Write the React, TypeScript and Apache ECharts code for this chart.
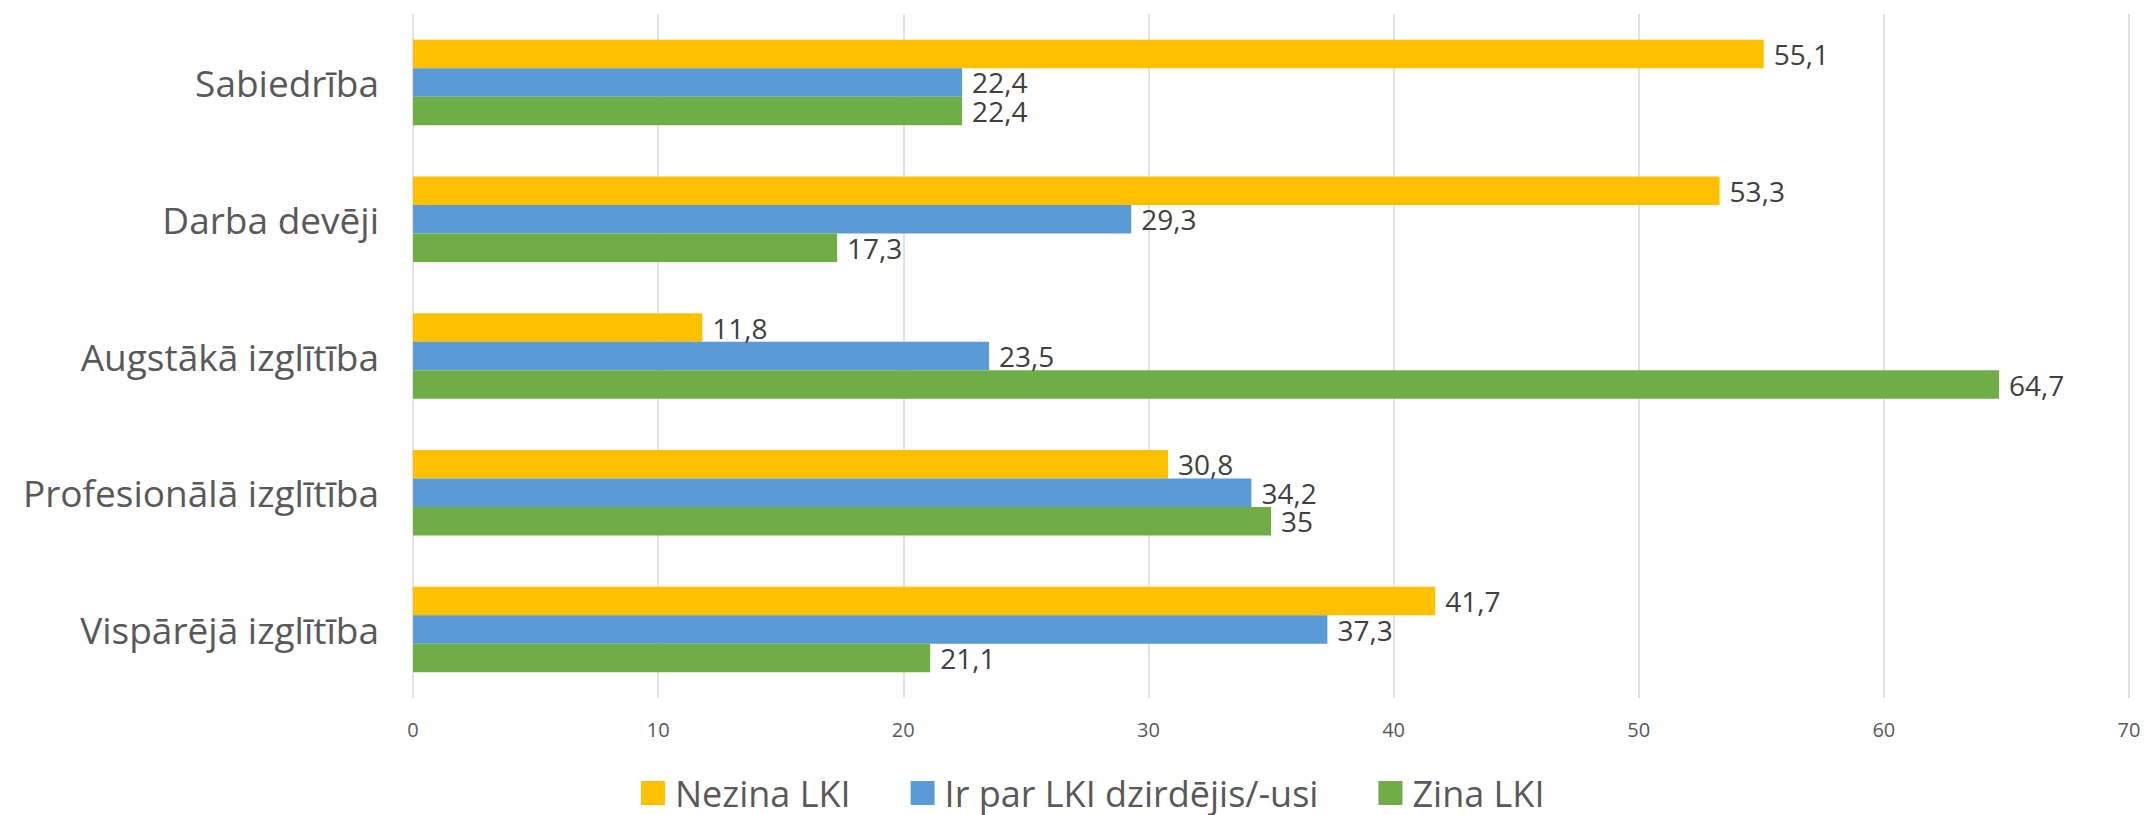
import React, { useEffect, useRef } from "react";
import * as echarts from "echarts";

const categories = [
  "Vispārējā izglītība",
  "Profesionālā izglītība",
  "Augstākā izglītība",
  "Darba devēji",
  "Sabiedrība",
];
const seriesNames = ["Nezina LKI", "Ir par LKI dzirdējis/-usi", "Zina LKI"];
const nezina = [41.7, 30.8, 11.8, 53.3, 55.1];
const irPar = [37.3, 34.2, 23.5, 29.3, 22.4];
const zina = [21.1, 35, 64.7, 17.3, 22.4];
const colors = ["#FFC000", "#5B9BD5", "#70AD47"];
const xTicks = { min: 0, max: 70, interval: 10 };

const FONT = "'Open Sans', 'Noto Sans', sans-serif";

export default function App() {
  const ref = useRef<HTMLDivElement>(null);
  useEffect(() => {
    if (!ref.current) return;
    const chart = echarts.init(ref.current, undefined, { renderer: "svg" });
    const values = [nezina, irPar, zina];
    chart.setOption({
      animation: false,
      textStyle: { fontFamily: FONT },
      grid: { left: 413, right: 18, top: 14, bottom: 117 },
      legend: {
        data: seriesNames,
        top: 769,
        left: 636,
        icon: "rect",
        itemWidth: 24,
        itemHeight: 24,
        itemGap: 60,
        textStyle: {
          fontSize: 36,
          lineHeight: 38,
          color: "#595959",
          fontFamily: FONT,
          padding: [0, 0, 0, 5],
        },
      },
      xAxis: {
        type: "value",
        min: xTicks.min,
        max: xTicks.max,
        interval: xTicks.interval,
        axisLine: { show: false },
        axisTick: { show: false },
        splitLine: { show: true, lineStyle: { color: "#D9D9D9", width: 1.5 } },
        axisLabel: { fontSize: 20, color: "#595959", margin: 21, fontFamily: FONT },
      },
      yAxis: {
        type: "category",
        data: categories,
        axisLine: { show: false },
        axisTick: { show: false },
        axisLabel: { fontSize: 37, color: "#595959", margin: 34, fontFamily: FONT },
      },
      series: seriesNames.map((name, i) => ({
        name,
        type: "bar",
        data: values[i],
        barWidth: 28.5,
        barGap: "0%",
        itemStyle: { color: colors[i] },
        label: {
          show: true,
          position: "right",
          distance: 10,
          fontSize: 28,
          color: "#404040",
          fontFamily: FONT,
          formatter: (p: any) => String(p.value).replace(".", ","),
        },
      })),
    });
    return () => chart.dispose();
  }, []);
  return (
    <div
      ref={ref}
      style={{ position: "fixed", left: 0, top: 0, width: 2147, height: 815, background: "#fff" }}
    />
  );
}
